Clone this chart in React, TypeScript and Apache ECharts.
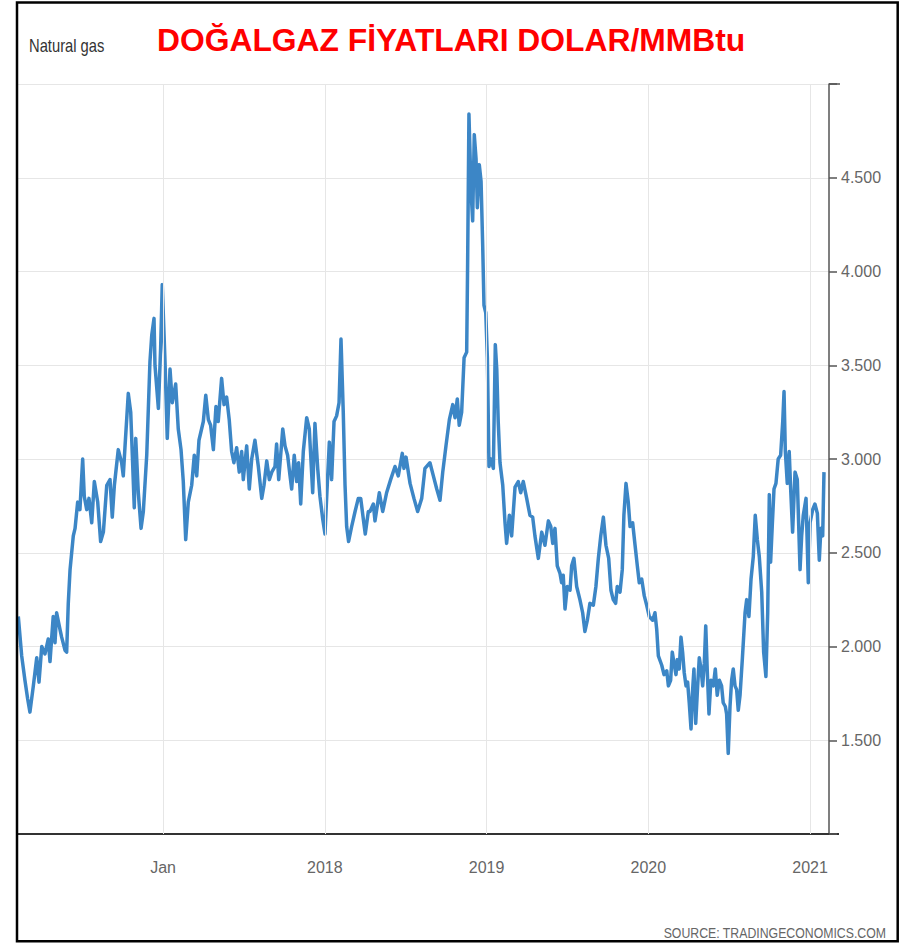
import { useEffect, useRef } from "react";
import * as echarts from "echarts";

// x positions are decimal years, y values are USD/MMBtu
const years = [
  2016.105, 2016.126, 2016.146, 2016.163, 2016.177, 2016.198, 2016.219, 2016.233, 2016.250, 2016.270,
  2016.290, 2016.301, 2016.321, 2016.332, 2016.342, 2016.363, 2016.373, 2016.394, 2016.404, 2016.414,
  2016.425, 2016.445, 2016.456, 2016.472, 2016.486, 2016.503, 2016.513, 2016.528, 2016.542, 2016.559,
  2016.575, 2016.596, 2016.614, 2016.631, 2016.652, 2016.672, 2016.686, 2016.699, 2016.723, 2016.744,
  2016.754, 2016.765, 2016.785, 2016.800, 2016.810, 2016.822, 2016.831, 2016.847, 2016.864, 2016.878,
  2016.899, 2016.919, 2016.930, 2016.944, 2016.950, 2016.971, 2016.985, 2016.995, 2017.012, 2017.026,
  2017.043, 2017.057, 2017.078, 2017.094, 2017.111, 2017.125, 2017.140, 2017.156, 2017.177, 2017.193,
  2017.208, 2017.222, 2017.249, 2017.264, 2017.280, 2017.294, 2017.311, 2017.327, 2017.341, 2017.362,
  2017.377, 2017.393, 2017.409, 2017.424, 2017.438, 2017.455, 2017.471, 2017.486, 2017.496, 2017.517,
  2017.533, 2017.548, 2017.568, 2017.589, 2017.610, 2017.624, 2017.641, 2017.657, 2017.672, 2017.692,
  2017.702, 2017.715, 2017.740, 2017.754, 2017.770, 2017.785, 2017.795, 2017.811, 2017.826, 2017.838,
  2017.851, 2017.867, 2017.888, 2017.904, 2017.925, 2017.939, 2017.956, 2017.970, 2017.987, 2018.001,
  2018.015, 2018.028, 2018.042, 2018.057, 2018.073, 2018.088, 2018.100, 2018.114, 2018.125, 2018.135,
  2018.147, 2018.166, 2018.187, 2018.207, 2018.222, 2018.238, 2018.250, 2018.269, 2018.279, 2018.300,
  2018.310, 2018.337, 2018.358, 2018.382, 2018.407, 2018.434, 2018.454, 2018.479, 2018.489, 2018.502,
  2018.527, 2018.551, 2018.574, 2018.599, 2018.619, 2018.650, 2018.671, 2018.692, 2018.712, 2018.729,
  2018.749, 2018.770, 2018.791, 2018.805, 2018.819, 2018.831, 2018.846, 2018.861, 2018.877, 2018.883,
  2018.891, 2018.904, 2018.914, 2018.924, 2018.935, 2018.943, 2018.955, 2018.966, 2018.976, 2018.984,
  2018.995, 2019.005, 2019.015, 2019.027, 2019.042, 2019.054, 2019.063, 2019.072, 2019.083, 2019.100,
  2019.114, 2019.124, 2019.141, 2019.155, 2019.176, 2019.196, 2019.211, 2019.227, 2019.248, 2019.268,
  2019.285, 2019.299, 2019.320, 2019.341, 2019.361, 2019.382, 2019.397, 2019.409, 2019.423, 2019.437,
  2019.454, 2019.464, 2019.474, 2019.485, 2019.499, 2019.516, 2019.526, 2019.540, 2019.557, 2019.577,
  2019.594, 2019.608, 2019.623, 2019.639, 2019.660, 2019.676, 2019.691, 2019.706, 2019.722, 2019.738,
  2019.755, 2019.769, 2019.783, 2019.798, 2019.808, 2019.825, 2019.839, 2019.849, 2019.862, 2019.876,
  2019.887, 2019.903, 2019.918, 2019.932, 2019.944, 2019.959, 2019.975, 2019.990, 2020.006, 2020.027,
  2020.041, 2020.052, 2020.062, 2020.083, 2020.097, 2020.114, 2020.124, 2020.138, 2020.148, 2020.159,
  2020.171, 2020.179, 2020.191, 2020.202, 2020.212, 2020.222, 2020.233, 2020.243, 2020.253, 2020.264,
  2020.274, 2020.282, 2020.293, 2020.305, 2020.315, 2020.326, 2020.336, 2020.346, 2020.355, 2020.364,
  2020.375, 2020.387, 2020.402, 2020.414, 2020.426, 2020.439, 2020.453, 2020.463, 2020.476, 2020.484,
  2020.494, 2020.505, 2020.515, 2020.525, 2020.536, 2020.546, 2020.556, 2020.567, 2020.581, 2020.598,
  2020.608, 2020.622, 2020.635, 2020.649, 2020.661, 2020.674, 2020.686, 2020.701, 2020.713, 2020.727,
  2020.738, 2020.748, 2020.756, 2020.766, 2020.777, 2020.789, 2020.803, 2020.818, 2020.831, 2020.839,
  2020.847, 2020.859, 2020.871, 2020.880, 2020.892, 2020.907, 2020.921, 2020.938, 2020.948, 2020.958,
  2020.975, 2020.989, 2021.000, 2021.016, 2021.030, 2021.045, 2021.057, 2021.067, 2021.078, 2021.086,
];

const prices = [
  2.16, 1.95, 1.82, 1.72, 1.65, 1.79, 1.94, 1.81, 2.00, 1.96,
  2.04, 1.92, 2.16, 2.02, 2.18, 2.09, 2.05, 1.98, 1.97, 2.23,
  2.41, 2.59, 2.63, 2.77, 2.73, 3.00, 2.80, 2.73, 2.79, 2.66,
  2.88, 2.77, 2.56, 2.61, 2.86, 2.89, 2.69, 2.86, 3.05, 2.98,
  2.91, 3.07, 3.35, 3.25, 3.02, 2.74, 3.11, 2.82, 2.63, 2.72,
  3.02, 3.52, 3.66, 3.75, 3.50, 3.27, 3.59, 3.93, 3.52, 3.11,
  3.48, 3.30, 3.40, 3.16, 3.05, 2.88, 2.57, 2.77, 2.86, 3.02,
  2.91, 3.10, 3.20, 3.34, 3.21, 3.18, 3.05, 3.28, 3.20, 3.43,
  3.29, 3.33, 3.21, 3.04, 2.98, 3.06, 2.93, 3.04, 2.89, 3.07,
  2.84, 3.00, 3.10, 2.96, 2.79, 2.86, 2.99, 2.89, 2.93, 2.96,
  3.08, 2.89, 3.16, 3.07, 3.02, 2.91, 2.84, 3.02, 2.88, 2.98,
  2.76, 3.04, 3.22, 3.16, 2.82, 3.19, 2.95, 2.80, 2.68, 2.60,
  2.86, 3.09, 2.89, 3.20, 3.23, 3.30, 3.64, 3.25, 2.86, 2.64,
  2.56, 2.64, 2.72, 2.79, 2.79, 2.68, 2.60, 2.72, 2.72, 2.76,
  2.67, 2.82, 2.72, 2.82, 2.89, 2.96, 2.91, 3.03, 2.95, 3.01,
  2.87, 2.79, 2.72, 2.79, 2.95, 2.98, 2.91, 2.84, 2.78, 2.93,
  3.07, 3.21, 3.29, 3.22, 3.32, 3.18, 3.25, 3.54, 3.57, 4.05,
  4.84, 4.43, 4.27, 4.73, 4.60, 4.34, 4.57, 4.48, 4.14, 3.82,
  3.78, 3.54, 2.96, 3.00, 2.95, 3.61, 3.48, 3.20, 2.98, 2.86,
  2.66, 2.55, 2.70, 2.59, 2.85, 2.88, 2.82, 2.88, 2.79, 2.70,
  2.69, 2.59, 2.47, 2.61, 2.54, 2.67, 2.64, 2.55, 2.63, 2.43,
  2.39, 2.34, 2.38, 2.20, 2.32, 2.30, 2.43, 2.47, 2.32, 2.25,
  2.18, 2.08, 2.14, 2.23, 2.22, 2.32, 2.47, 2.59, 2.69, 2.54,
  2.47, 2.30, 2.25, 2.23, 2.32, 2.29, 2.41, 2.70, 2.87, 2.77,
  2.64, 2.66, 2.54, 2.43, 2.34, 2.36, 2.27, 2.22, 2.16, 2.14,
  2.18, 2.09, 1.95, 1.90, 1.85, 1.87, 1.79, 1.82, 1.97, 1.91,
  1.85, 1.93, 1.88, 2.05, 1.97, 1.86, 1.79, 1.81, 1.70, 1.56,
  1.77, 1.88, 1.59, 1.79, 1.94, 1.88, 1.79, 1.91, 2.11, 1.88,
  1.64, 1.82, 1.79, 1.88, 1.74, 1.82, 1.79, 1.70, 1.68, 1.64,
  1.43, 1.68, 1.82, 1.88, 1.79, 1.77, 1.66, 1.74, 1.93, 2.18,
  2.25, 2.16, 2.36, 2.48, 2.70, 2.57, 2.48, 2.29, 1.97, 1.84,
  2.18, 2.81, 2.45, 2.64, 2.84, 2.87, 3.00, 3.02, 3.20, 3.36,
  3.04, 2.87, 3.04, 2.84, 2.61, 2.93, 2.89, 2.41, 2.59, 2.70,
  2.79, 2.34, 2.66, 2.73, 2.76, 2.71, 2.46, 2.63, 2.59, 2.93,
];

const yearTicks = [2017, 2018, 2019, 2020, 2021];
const yearTickLabels = ["Jan", "2018", "2019", "2020", "2021"];

const titleText = "DOĞALGAZ FİYATLARI DOLAR/MMBtu";
const subtitleText = "Natural gas";
const sourceText = "SOURCE: TRADINGECONOMICS.COM";

export default function App() {
  const ref = useRef<HTMLDivElement>(null);

  useEffect(() => {
    if (!ref.current) return;
    const chart = echarts.init(ref.current, null, { renderer: "svg" });
    const sans = "'Liberation Sans', Arial, sans-serif";
    const seriesData = years.map((y, i) => [y, prices[i]]);

    chart.setOption({
      animation: false,
      backgroundColor: "#ffffff",
      grid: {
        left: 17,
        right: 73,
        top: 84,
        bottom: 109,
        containLabel: false,
        outerBoundsMode: "none",
      },
      xAxis: {
        type: "value",
        min: 2016.097,
        max: 2021.117,
        axisLine: { show: true, onZero: false, lineStyle: { color: "#333333", width: 2 } },
        axisTick: { show: false },
        splitLine: { show: false },
        axisLabel: {
          customValues: yearTicks,
          formatter: (v: number) => {
            const idx = yearTicks.indexOf(Math.round(v));
            return idx >= 0 ? yearTickLabels[idx] : "";
          },
          color: "#666666",
          fontSize: 16,
          fontFamily: sans,
          margin: 25,
        },
      },
      yAxis: {
        type: "value",
        position: "right",
        min: 1,
        max: 5,
        interval: 0.5,
        axisLine: { show: true, lineStyle: { color: "#555555", width: 1.5 } },
        axisTick: { show: true, length: 8, lineStyle: { color: "#555555", width: 1.5 } },
        splitLine: { show: true, lineStyle: { color: "#e6e6e6", width: 1 } },
        axisLabel: {
          formatter: (v: number) => (v > 1.01 && v < 4.99 ? v.toFixed(3) : ""),
          color: "#666666",
          fontSize: 16,
          fontFamily: sans,
          margin: 12,
        },
      },
      series: [
        {
          type: "line",
          data: [],
          z: 1,
          silent: true,
          markLine: {
            silent: true,
            symbol: ["none", "none"],
            label: { show: false },
            lineStyle: { color: "#e6e6e6", width: 1, type: "solid" },
            data: yearTicks.map((v) => ({ xAxis: v })),
          },
        },
        {
          type: "line",
          data: seriesData,
          z: 3,
          symbol: "none",
          showSymbol: false,
          smooth: false,
          clip: true,
          lineStyle: { color: "#3c86c6", width: 3.5, join: "round" },
        },
      ],
      graphic: [
        {
          type: "line",
          shape: { x1: 829, y1: 834, x2: 839, y2: 834 },
          style: { stroke: "#333333", lineWidth: 2 },
        },
        {
          type: "line",
          shape: { x1: 829, y1: 84, x2: 840, y2: 84 },
          style: { stroke: "#555555", lineWidth: 1.5 },
        },
        {
          type: "text",
          x: 157,
          y: 40,
          style: {
            text: titleText,
            fill: "#ff0000",
            fontSize: 31.8,
            fontWeight: "bold",
            fontFamily: sans,
            verticalAlign: "middle",
            align: "left",
          },
        },
        {
          type: "text",
          x: 29,
          y: 45,
          scaleX: 0.82,
          style: {
            text: subtitleText,
            fill: "#333333",
            fontSize: 18,
            fontFamily: sans,
            verticalAlign: "middle",
            align: "left",
          },
        },
        {
          type: "text",
          x: 886,
          y: 933,
          scaleX: 0.82,
          style: {
            text: sourceText,
            fill: "#666666",
            fontSize: 15,
            fontFamily: sans,
            verticalAlign: "middle",
            align: "right",
          },
        },
        {
          type: "rect",
          z: 100,
          shape: { x: 17, y: 2.5, width: 880.7, height: 938.8 },
          style: { fill: "none", stroke: "#000000", lineWidth: 2.5 },
        },
      ],
    });

    return () => {
      chart.dispose();
    };
  }, []);

  return (
    <div
      ref={ref}
      style={{ position: "fixed", left: 0, top: 0, width: 902, height: 943, background: "#fff" }}
    />
  );
}
